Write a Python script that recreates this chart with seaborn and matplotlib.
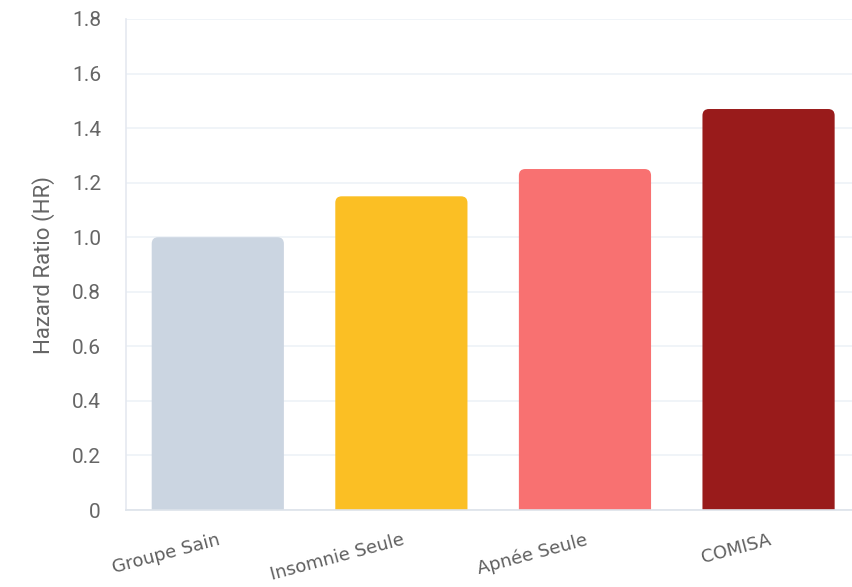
import matplotlib
matplotlib.use("Agg")
import matplotlib.pyplot as plt
import seaborn as sns
import pandas as pd
from matplotlib.patches import FancyBboxPatch

categories = ["Groupe Sain", "Insomnie Seule", "Apnée Seule", "COMISA"]
hazard_ratio = [1.0, 1.15, 1.25, 1.47]
colors = ["#cbd5e1", "#fbbf24", "#f87171", "#991b1b"]
yticks = [0, 0.2, 0.4, 0.6, 0.8, 1.0, 1.2, 1.4, 1.6, 1.8]
ytick_labels = ["0", "0.2", "0.4", "0.6", "0.8", "1.0", "1.2", "1.4", "1.6", "1.8"]

df = pd.DataFrame({"cat": categories, "hr": hazard_ratio})

sns.set_theme(style="white")
plt.rcParams["font.family"] = ["Roboto", "DejaVu Sans"]

fig = plt.figure(figsize=(8.53, 5.87), dpi=100)
ax = fig.add_axes([126/853, 1-510/587, 1-126/853, (510-19)/587])

sns.barplot(data=df, x="cat", y="hr", hue="cat", palette=colors, width=0.72,
            legend=False, ax=ax, saturation=1)

ax.set_ylim(0, 1.8)
ax.set_xlim(-0.5, 3.46)

# rounded top corners
rx = 0.035
ry = 0.024
for p in list(ax.patches):
    x, y = p.get_x(), p.get_y()
    w, h = p.get_width(), p.get_height()
    fc = p.get_facecolor()
    p.set_visible(False)
    fb = FancyBboxPatch((x, y - 0.1), w, h + 0.1,
                        boxstyle=f"round,pad=0,rounding_size={rx}",
                        mutation_aspect=ry/rx, facecolor=fc, edgecolor="none",
                        zorder=2)
    ax.add_patch(fb)

ax.set_yticks(yticks)
ax.set_yticklabels(ytick_labels)
ax.yaxis.grid(True, color="#eef2f7", linewidth=1.2)
ax.set_axisbelow(True)
for s in ["top", "right"]:
    ax.spines[s].set_visible(False)
ax.spines["left"].set_color("#e5e9f0")
ax.spines["bottom"].set_color("#dde3ea")
ax.spines["left"].set_linewidth(1.2)
ax.spines["bottom"].set_linewidth(1.2)

ax.tick_params(axis="y", length=0, pad=18, labelsize=15, labelcolor="#666666")
ax.tick_params(axis="x", length=0, pad=15, labelsize=13, labelcolor="#5f5f5f")
for lab in ax.get_xticklabels():
    lab.set_rotation(15)
    lab.set_ha("right")
    lab.set_rotation_mode("anchor")
    lab.set_family(["DejaVu Sans"])

ax.set_xlabel("")
ax.set_ylabel("Hazard Ratio (HR)", fontsize=16, color="#666666", labelpad=12)

fig.savefig("out.png", dpi=100)
